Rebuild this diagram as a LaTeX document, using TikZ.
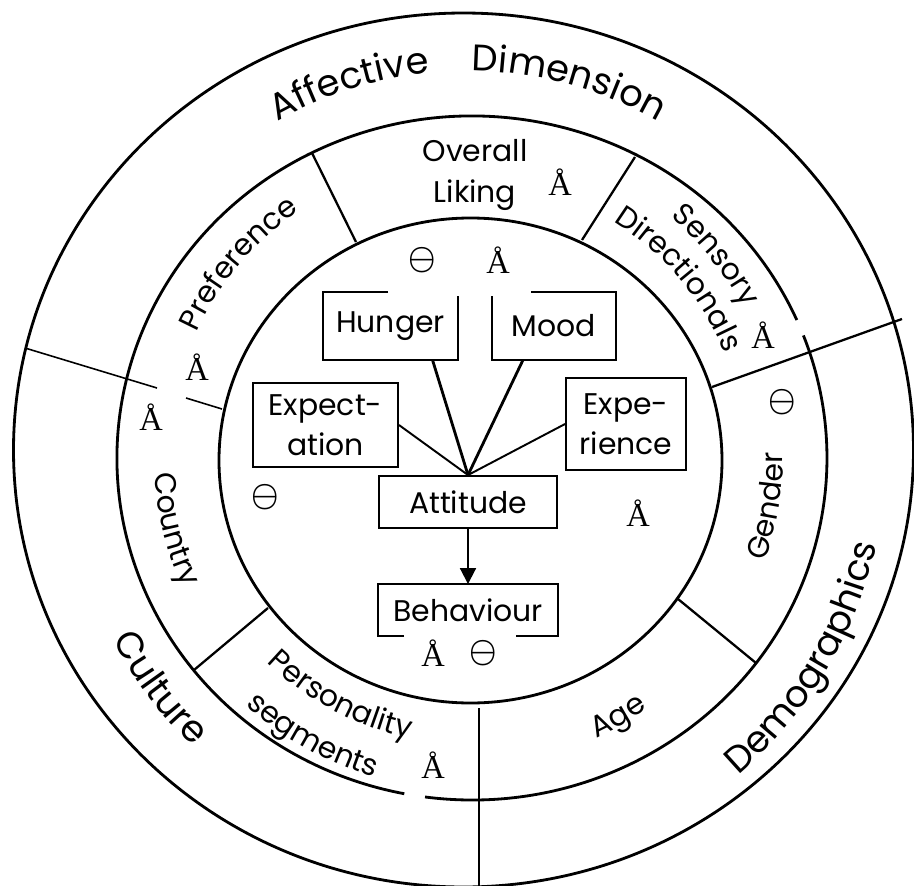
\documentclass[tikz,border=0pt]{standalone}
\usepackage{fontspec}
\setmainfont{Poppins}
\newfontfamily\signfont{Liberation Serif}
\usetikzlibrary{arrows.meta,calc,decorations.text}

\newcommand{\boxfont}{\fontsize{17}{23}\selectfont}
\newcommand{\bigfont}{\fontsize{21}{27}\selectfont}
\newcommand{\plusmark}{{\signfont\fontsize{18.5}{18}\selectfont Å}}
\newcommand{\minusmark}{{\fontsize{10}{10}\selectfont\boldmath\scalebox{1.75}[1.9]{$\ominus$}}}

\begin{document}
\begin{tikzpicture}[x=0.02cm, y=-0.02cm,
    box/.style={rectangle, draw, line width=1.1pt, inner sep=0pt, font=\boxfont, align=center},
    openbox/.style={box, draw=none},
    boxline/.style={line width=1.1pt},
    sym/.style={inner sep=0pt},
    ring/.style={line width=1.6pt},
    divider/.style={line width=1.3pt},
    thinline/.style={line width=0.9pt},
    link/.style={line width=1.6pt},
    ringtext/.style={decorate, decoration={text along path, text align=center, text={#1}}}
]
    \useasboundingbox (0,0) rectangle (914,886);
    \coordinate (c) at (468,456);
    \coordinate (mc) at (472,458);

    % Rings
    \draw[ring] (463.5,450) ellipse [x radius=450, y radius=437];
    \draw[ring] ([shift={(-23.8:355 and 342)}]mc) arc[start angle=-23.8, end angle=-259, x radius=355, y radius=342];
    \draw[ring] ([shift={(-262.4:355 and 342)}]mc) arc[start angle=-262.4, end angle=-381, x radius=355, y radius=342];
    \draw[ring] (470.5,460.5) ellipse [x radius=251.5, y radius=242.5];

    % Segment dividers
    \draw[divider] (312,153) -- (356,242);
    \draw[divider] (635,157) -- (582,240);
    \draw[divider] (712,387) -- (902,319);
    \draw[divider] (678,599) -- (756,663);
    \draw[divider] (268,608) -- (194,670);
    \draw[thinline] (25,348) -- (157,388);
    \draw[thinline] (186,398) -- (222,409);
    \draw[thinline] (479,708) -- (479,886);

    % Outer ring labels
    \path[ringtext={|\bigfont|Affective{\kern 24pt}Dimension}] ([shift={(-150:385)}]c) arc[start angle=-150, end angle=-30, radius=385];
    \path[ringtext={|\bigfont|Culture}] ([shift={(-187:400)}]c) arc[start angle=-187, end angle=-247, radius=400];
    \path[ringtext={|\bigfont|Demographics}] ([shift={(-299:418)}]c) arc[start angle=-299, end angle=-359, radius=418];

    % Middle ring labels
    \node[font=\boxfont, align=center] (liking) at (475,175) {Overall\\Liking};
    \path[ringtext={|\boxfont|Preference}] ([shift={(-190:298)}]c) arc[start angle=-190, end angle=-90, radius=298];
    \path[ringtext={|\boxfont|Sensory}] ([shift={(-89:313)}]c) arc[start angle=-89, end angle=11, radius=313];
    \path[ringtext={|\boxfont|Directionals}] ([shift={(-95:276)}]c) arc[start angle=-95, end angle=15, radius=276];
    \path[ringtext={|\boxfont|Country}] ([shift={(-160:314)}]c) arc[start angle=-160, end angle=-228, radius=314];
    \path[ringtext={|\boxfont|Gender}] ([shift={(-320:315)}]c) arc[start angle=-320, end angle=-381, radius=315];
    \path[ringtext={|\boxfont|Age}] ([shift={(-270:310)}]c) arc[start angle=-270, end angle=-330, radius=310];
    \path[ringtext={|\boxfont|Personality}] ([shift={(-200:288)}]c) arc[start angle=-200, end angle=-284, radius=288];
    \path[ringtext={|\boxfont|segments}] ([shift={(-200:334)}]c) arc[start angle=-200, end angle=-282, radius=334];

    % Inner boxes
    \node[openbox, minimum width=2.66cm, minimum height=1.32cm] (hunger) at (390.5,326) {Hunger};
    \node[openbox, minimum width=2.44cm, minimum height=1.32cm] (mood) at (554,326) {Mood};
    \node[box, minimum width=2.9cm, minimum height=1.68cm] (expect) at (325.5,425) {Expect-\\ation};
    \node[box, minimum width=2.4cm, minimum height=1.84cm] (exper) at (626,424) {Expe-\\rience};
    \node[box, minimum width=3.56cm, minimum height=1.04cm] (att) at (468,502) {Attitude};
    \node[openbox, minimum width=3.56cm, minimum height=1.0cm] (beh) at (468,610) {Behaviour};

    \draw[boxline] ($(hunger.north west)+(65,0)$) -- (hunger.north west) -- (hunger.south west) -- (hunger.south east) -- ($(hunger.north east)+(0,4)$);
    \draw[boxline] ($(mood.north west)+(0,4)$) -- (mood.south west) -- (mood.south east) -- (mood.north east) -- ($(mood.north west)+(39,0)$);
    \draw[boxline] ($(beh.south west)+(26,0)$) -- (beh.south west) -- (beh.north west) -- (beh.north east) -- (beh.south east) -- ($(beh.south east)+(-42,0)$);

    % Links to attitude
    \draw[link] ($(hunger.south)+(42,0)$) -- (att.north);
    \draw[link] ($(mood.south)+(-31,0)$) -- (att.north);
    \draw[boxline] (expect.east) -- (att.north);
    \draw[boxline] (exper.west) -- (att.north);
    \draw[boxline, -{Triangle[length=9pt, width=9pt]}] (att.south) -- (beh.north);

    % Signs
    \node[sym] (p1) at (560,182) {\plusmark};
    \node[sym] (p2) at (498,260) {\plusmark};
    \node[sym] (p3) at (197,367) {\plusmark};
    \node[sym] (p4) at (151,417) {\plusmark};
    \node[sym] (p5) at (763,335) {\plusmark};
    \node[sym] (p6) at (638,513) {\plusmark};
    \node[sym] (p7) at (433,653) {\plusmark};
    \node[sym] (p8) at (433,765) {\plusmark};
    \node[sym] (m1) at (422,260) {\minusmark};
    \node[sym] (m2) at (265,497) {\minusmark};
    \node[sym] (m3) at (782,402) {\minusmark};
    \node[sym] (m4) at (483,653) {\minusmark};
\end{tikzpicture}
\end{document}
